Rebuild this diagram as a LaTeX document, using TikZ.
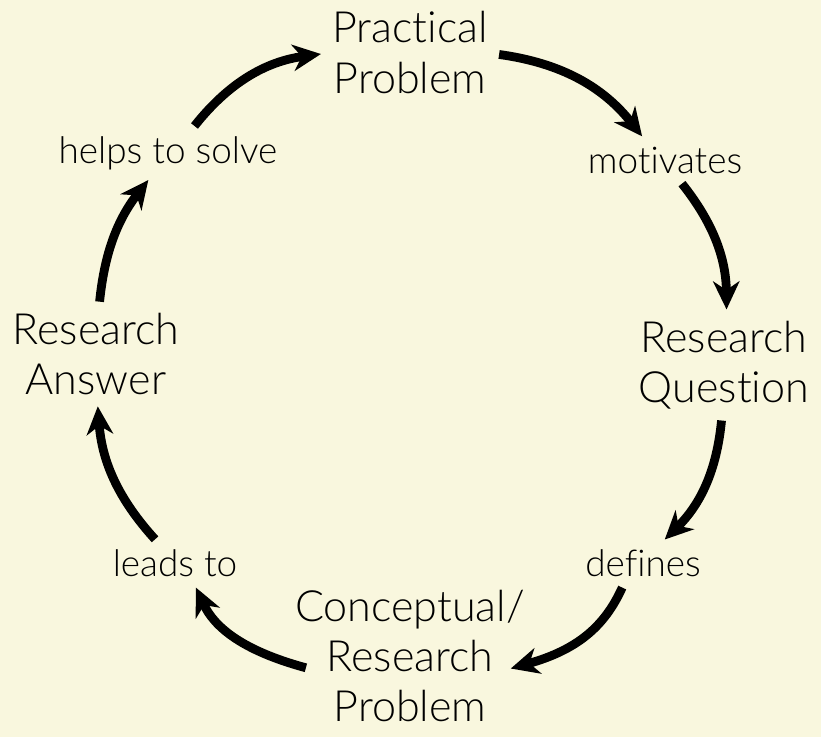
\documentclass[tikz,border=0pt]{standalone}
\usepackage{fontspec}
\setmainfont{Lato Light}[Ligatures=NoCommon]
\usetikzlibrary{arrows.meta}
\definecolor{paper}{RGB}{249,247,222}

\tikzset{
  concept/.style={align=center,font=\fontsize{24.5}{28.5}\selectfont},
  verb/.style={font=\fontsize{21}{25}\selectfont},
  flow/.style={line width=5pt,-{Stealth[length=16pt,width=15pt,inset=5pt]},shorten <=3pt,shorten >=3pt},
}

\begin{document}
\begin{tikzpicture}
  \fill[paper] (0,0) rectangle (16.42,14.74);

  \node[concept] (practical) at (8.2,13.69) {Practical\\Problem};
  \node[concept] (question) at (14.48,7.44) {Research\\Question};
  \node[concept] (conceptual) at (8.2,1.62) {Conceptual/\\Research\\Problem};
  \node[concept] (answer) at (1.92,7.66) {Research\\Answer};

  \node[verb] (motivates) at (13.3,11.54) {motivates};
  \node[verb] (defines) at (12.86,3.48) {defines};
  \node[verb] (leads) at (3.5,3.48) {leads to};
  \node[verb] (helps) at (3.36,11.68) {helps to solve};

  \draw[flow] (practical) to[bend left=22] (motivates);
  \draw[flow] (motivates) to[bend left=19] (question);
  \draw[flow] (question) to[bend left=20] (defines);
  \draw[flow,shorten >=-12pt] (defines) to[bend left=25] (conceptual);
  \draw[flow,shorten <=-10pt] (conceptual) to[bend left=25] (leads);
  \draw[flow] (leads) to[bend left=19] (answer);
  \draw[flow] (answer) to[bend left=16] (helps);
  \draw[flow] (helps) to[bend left=22] (practical);
\end{tikzpicture}
\end{document}
